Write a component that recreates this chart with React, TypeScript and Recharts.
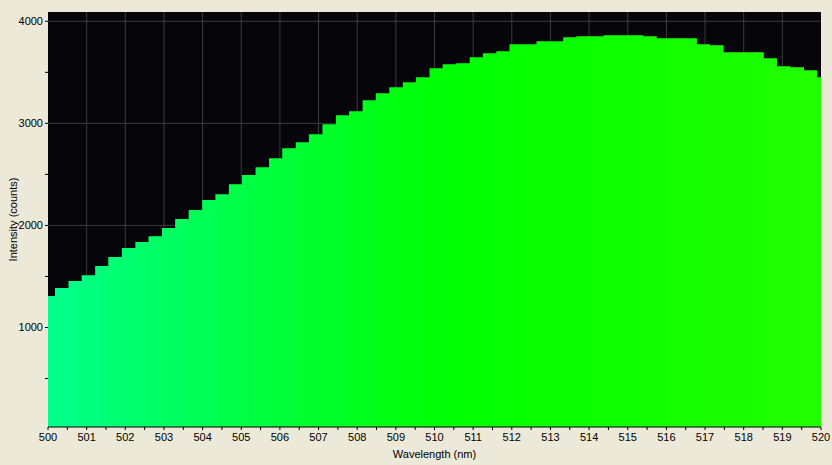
import { AreaChart, Area, XAxis, YAxis, CartesianGrid } from 'recharts';

// Spectrum bins: start wavelength of each detector bin (nm) and the counts read for it
const wavelengths = [
    500.0, 500.18, 500.53, 500.87, 501.22, 501.56, 501.91, 502.26, 502.6, 502.95,
    503.29, 503.64, 503.99, 504.33, 504.68, 505.02, 505.37, 505.72, 506.06, 506.41,
    506.75, 507.1, 507.45, 507.79, 508.14, 508.48, 508.83, 509.18, 509.52, 509.87,
    510.21, 510.56, 510.91, 511.25, 511.6, 511.94, 512.29, 512.64, 512.98, 513.33,
    513.67, 514.02, 514.37, 514.71, 515.06, 515.4, 515.75, 516.1, 516.44, 516.79,
    517.13, 517.48, 517.83, 518.17, 518.52, 518.86, 519.21, 519.56, 519.9, 520.0,
];
const counts = [
    1308, 1386, 1455, 1513, 1602, 1690, 1778, 1837, 1895, 1974,
    2062, 2150, 2248, 2306, 2404, 2493, 2571, 2659, 2757, 2816,
    2894, 2992, 3080, 3119, 3227, 3295, 3354, 3403, 3452, 3540,
    3579, 3589, 3648, 3687, 3706, 3775, 3775, 3804, 3804, 3844,
    3853, 3853, 3863, 3863, 3863, 3853, 3834, 3834, 3834, 3775,
    3765, 3697, 3697, 3697, 3638, 3560, 3550, 3520, 3452, 3452,
];

const xTicks = [
    500, 500.5, 501, 501.5, 502, 502.5, 503, 503.5, 504, 504.5, 505, 505.5, 506, 506.5,
    507, 507.5, 508, 508.5, 509, 509.5, 510, 510.5, 511, 511.5, 512, 512.5, 513, 513.5,
    514, 514.5, 515, 515.5, 516, 516.5, 517, 517.5, 518, 518.5, 519, 519.5, 520,
];
const xGrid = [501, 502, 503, 504, 505, 506, 507, 508, 509, 510, 511, 512, 513, 514, 515, 516, 517, 518, 519];
const yTicks = [500, 1000, 1500, 2000, 2500, 3000, 3500, 4000];
const yGrid = [1000, 2000, 3000, 4000];

const data = wavelengths.map((w, i) => ({ w, v: counts[i] }));

const FONT = '"Liberation Sans", Arial, sans-serif';
const BG = '#ece9d8';

function XTick(props: any) {
    const { x, y, payload } = props;
    if (!Number.isInteger(payload.value)) return <g />;
    return (
        <text x={x} y={y + 9} textAnchor="middle" fontSize={11} fontFamily={FONT} fill="#000">
            {payload.value}
        </text>
    );
}

function YTick(props: any) {
    const { x, y, payload } = props;
    if (payload.value % 1000 !== 0) return <g />;
    return (
        <text x={x} y={y + 4} textAnchor="end" fontSize={11} fontFamily={FONT} fill="#000">
            {payload.value}
        </text>
    );
}

export default function App() {
    return (
        <div style={{ position: 'absolute', left: 0, top: 0, width: 832, height: 465, background: BG }}>
            <AreaChart width={832} height={465} data={data} margin={{ top: 12, right: 11, bottom: 0, left: 0 }}>
                <defs>
                    <linearGradient id="spec" x1="0" y1="0" x2="1" y2="0">
                        <stop offset="0%" stopColor="#00ff8c" />
                        <stop offset="25%" stopColor="#00ff46" />
                        <stop offset="50%" stopColor="#00ff04" />
                        <stop offset="75%" stopColor="#10ff00" />
                        <stop offset="100%" stopColor="#22ff00" />
                    </linearGradient>
                </defs>
                <CartesianGrid
                    fill="#060509"
                    fillOpacity={1}
                    stroke="#3c3c3c"
                    strokeWidth={1}
                    horizontalValues={yGrid}
                    verticalValues={xGrid}
                />
                <XAxis
                    type="number"
                    dataKey="w"
                    domain={[500, 520]}
                    ticks={xTicks}
                    interval={0}
                    allowDataOverflow
                    height={38}
                    tickSize={3}
                    tickMargin={2}
                    tick={XTick}
                    tickLine={{ stroke: '#000' }}
                    axisLine={{ stroke: '#000' }}
                    label={{ value: 'Wavelength (nm)', position: 'insideBottom', offset: 7, fill: '#000', fontSize: 11, fontFamily: FONT }}
                />
                <YAxis
                    type="number"
                    domain={[25, 4091]}
                    ticks={yTicks}
                    interval={0}
                    allowDataOverflow
                    width={48}
                    tickSize={3}
                    tickMargin={2}
                    tick={YTick}
                    tickLine={{ stroke: '#000' }}
                    axisLine={false}
                    label={{ value: 'Intensity (counts)', angle: -90, position: 'insideLeft', offset: 13, fill: '#000', fontSize: 11, fontFamily: FONT, style: { textAnchor: 'middle' } }}
                />
                <Area
                    type="stepAfter"
                    dataKey="v"
                    stroke="none"
                    fill="url(#spec)"
                    fillOpacity={1}
                    isAnimationActive={false}
                    dot={false}
                    activeDot={false}
                />
            </AreaChart>
        </div>
    );
}
